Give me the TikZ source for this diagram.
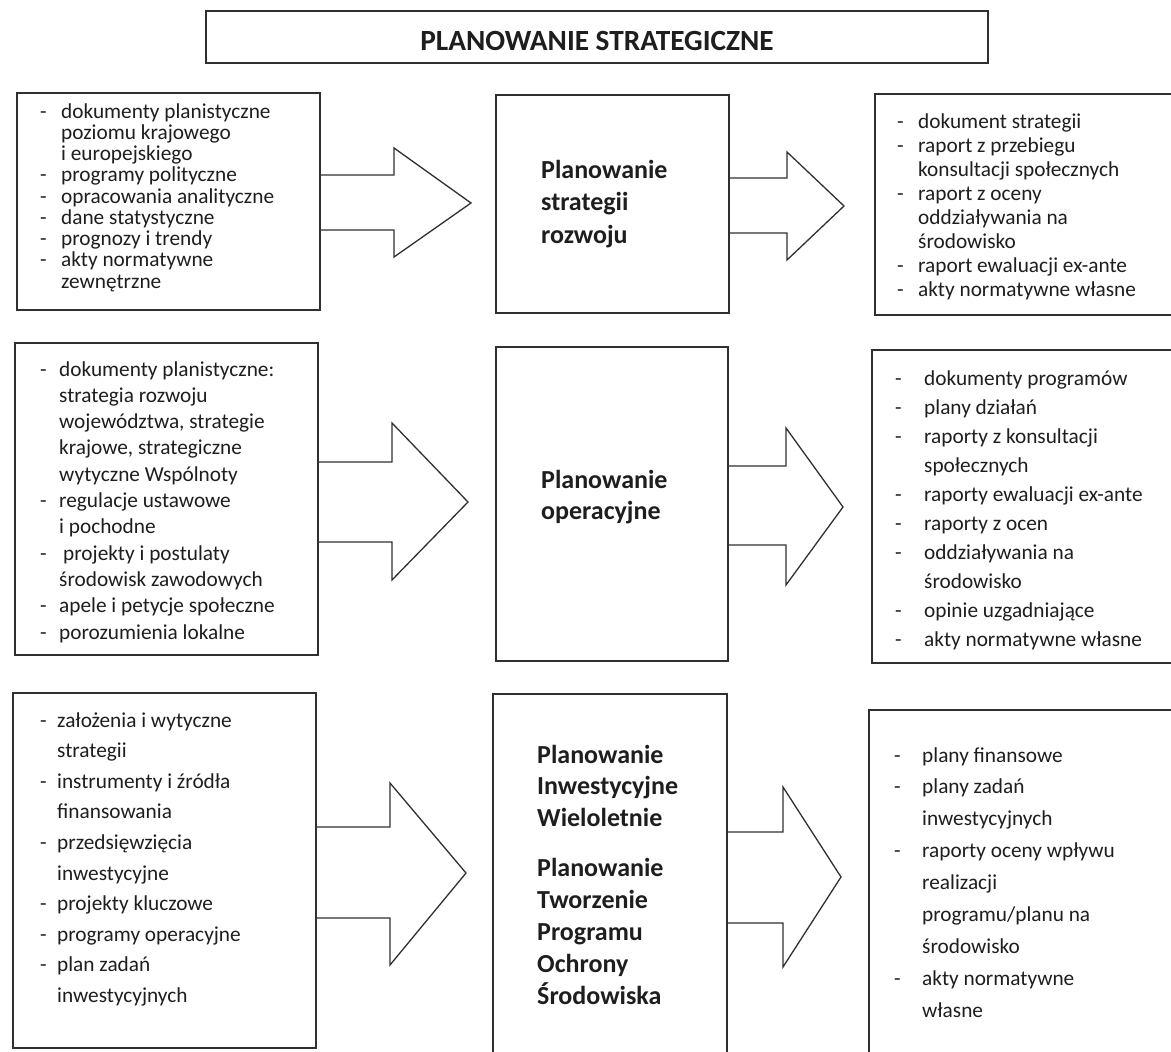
\documentclass[tikz,border=0pt]{standalone}
\usepackage{fontspec}
\setmainfont{Carlito}
\usepackage{array}
\definecolor{ink}{HTML}{1E1E1E}
\definecolor{edge}{HTML}{303030}
% two-column list: dash column of width #1, then the item text
\newenvironment{dashlist}[1]{\begin{tabular}[t]{@{}p{#1}@{}l@{}}}{\end{tabular}}
\newenvironment{boldlines}{\begin{tabular}[t]{@{}l@{}}}{\end{tabular}}

\begin{document}
\begin{tikzpicture}[x=1pt,y=-1pt,
  frame/.style={draw=edge, line width=1.6pt, inner sep=0pt, outer sep=0pt, anchor=north west},
  blockarrow/.style={draw=edge, line width=1.3pt, line join=miter},
  items/.style={inner sep=0pt, anchor=base west, text=ink, font=\fontsize{21.3}{#1}\selectfont},
  heading/.style={inner sep=0pt, anchor=base west, text=ink, font=\fontsize{26}{#1}\selectfont\bfseries},
]
\clip (0,0) rectangle (1171,1052);
\fill[white] (0,0) rectangle (1171,1052);

% ---------- title ----------
\node[frame, minimum width=782pt, minimum height=52pt] (title) at (206,11) {};
\node[inner sep=0pt, anchor=base, text=ink, font=\fontsize{29.3}{34}\selectfont\bfseries]
  (titletext) at (597,50) {PLANOWANIE STRATEGICZNE};

% ---------- row 1 ----------
\node[frame, minimum width=303pt, minimum height=217pt] (l1) at (17,93) {};
\node[frame, minimum width=233pt, minimum height=218pt] (m1) at (496,95) {};
\node[frame, minimum width=400pt, minimum height=221pt] (r1) at (875,94) {};

\node[items=21.25] (l1t) at (40,118) {\begin{dashlist}{21pt}
-& dokumenty planistyczne\\
 & poziomu krajowego\\
 & i europejskiego\\
-& programy polityczne\\
-& opracowania analityczne\\
-& dane statystyczne\\
-& prognozy i trendy\\
-& akty normatywne\\
 & zewnętrzne
\end{dashlist}};

\node[heading=32.5] (m1t) at (541,178) {\begin{boldlines}
Planowanie\\ strategii\\ rozwoju
\end{boldlines}};

\node[items=24.14] (r1t) at (897,128) {\begin{dashlist}{21pt}
-& dokument strategii\\
-& raport z przebiegu\\
 & konsultacji społecznych\\
-& raport z oceny\\
 & oddziaływania na\\
 & środowisko\\
-& raport ewaluacji ex-ante\\
-& akty normatywne własne
\end{dashlist}};

\draw[blockarrow] (l1.east |- 0,175) -- (394,175) -- (394,148) -- (471,203)
  -- (394,257) -- (394,230) -- (l1.east |- 0,230);
\draw[blockarrow] (m1.east |- 0,178) -- (787,178) -- (787,152) -- (844,206)
  -- (787,260) -- (787,233) -- (m1.east |- 0,233);

% ---------- row 2 ----------
\node[frame, minimum width=303pt, minimum height=312pt] (l2) at (15,343) {};
\node[frame, minimum width=232pt, minimum height=314pt] (m2) at (496,347) {};
\node[frame, minimum width=400pt, minimum height=313pt] (r2) at (872,350) {};

\node[items=26.3] (l2t) at (40,376) {\begin{dashlist}{19pt}
-& dokumenty planistyczne:\\
 & strategia rozwoju\\
 & województwa, strategie\\
 & krajowe, strategiczne\\
 & wytyczne Wspólnoty\\
-& regulacje ustawowe\\
 & i pochodne\\
-& \hspace{4pt}projekty i postulaty\\
 & środowisk zawodowych\\
-& apele i petycje społeczne\\
-& porozumienia lokalne
\end{dashlist}};

\node[heading=31] (m2t) at (541,488) {\begin{boldlines}
Planowanie\\ operacyjne
\end{boldlines}};

\node[items=29.1] (r2t) at (895,385) {\begin{dashlist}{29pt}
-& dokumenty programów\\
-& plany działań\\
-& raporty z konsultacji\\
 & społecznych\\
-& raporty ewaluacji ex-ante\\
-& raporty z ocen\\
-& oddziaływania na\\
 & środowisko\\
-& opinie uzgadniające\\
-& akty normatywne własne
\end{dashlist}};

\draw[blockarrow] (l2.east |- 0,462) -- (392,462) -- (392,423) -- (468,502)
  -- (392,580) -- (392,542) -- (l2.east |- 0,542);
\draw[blockarrow] (m2.east |- 0,466) -- (786,466) -- (786,428) -- (843,507)
  -- (786,585) -- (786,545) -- (m2.east |- 0,545);

% ---------- row 3 ----------
\node[frame, minimum width=303pt, minimum height=355pt] (l3) at (13,693) {};
\node[frame, minimum width=234pt, minimum height=400pt] (m3) at (493,694) {};
\node[frame, minimum width=400pt, minimum height=400pt] (r3) at (869,710) {};

\node[items=30.6] (l3t) at (40,727) {\begin{dashlist}{17pt}
-& założenia i wytyczne\\
 & strategii\\
-& instrumenty i źródła\\
 & finansowania\\
-& przedsięwzięcia\\
 & inwestycyjne\\
-& projekty kluczowe\\
-& programy operacyjne\\
-& plan zadań\\
 & inwestycyjnych
\end{dashlist}};

\node[heading=31.5] (m3a) at (537,763) {\begin{boldlines}
Planowanie\\ Inwestycyjne\\ Wieloletnie
\end{boldlines}};
\node[heading=32] (m3b) at (537,876) {\begin{boldlines}
Planowanie\\ Tworzenie\\ Programu\\ Ochrony\\ Środowiska
\end{boldlines}};

\node[items=31.9] (r3t) at (894,762) {\begin{dashlist}{28pt}
-& plany finansowe\\
-& plany zadań\\
 & inwestycyjnych\\
-& raporty oceny wpływu\\
 & realizacji\\
 & programu/planu na\\
 & środowisko\\
-& akty normatywne\\
 & własne
\end{dashlist}};

\draw[blockarrow] (l3.east |- 0,827) -- (390,827) -- (390,783) -- (466,873)
  -- (390,965) -- (390,918) -- (l3.east |- 0,918);
\draw[blockarrow] (m3.east |- 0,832) -- (783,832) -- (783,787) -- (841,877)
  -- (783,967) -- (783,923) -- (m3.east |- 0,923);
\end{tikzpicture}
\end{document}
